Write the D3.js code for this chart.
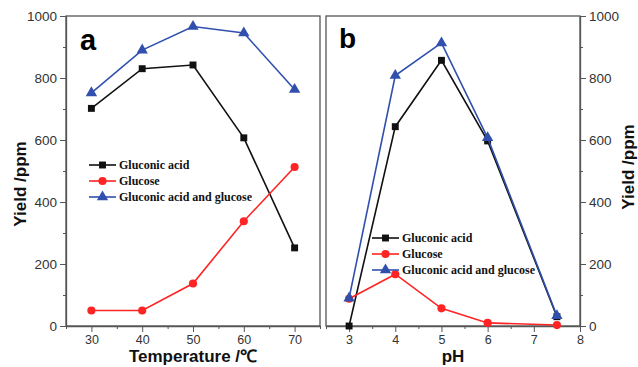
<!DOCTYPE html>
<html>
<head>
<meta charset="utf-8">
<script src="https://cdn.jsdelivr.net/npm/d3@7"></script>
<style>
  body { margin: 0; background: #fff; }
  svg { display: block; }
  .tick text { font-family: "Liberation Sans", Arial, sans-serif; fill: #333; }
  .domain, .tick line { stroke: #555; }
</style>
</head>
<body>
<div id="chart"></div>
<script>
// panel a: temperature
const temps = [30, 40, 50, 60, 70];
const tempGluconic = [702, 830, 842, 607, 252];
const tempGlucose = [50, 50, 137, 338, 513];
const tempTotal = [752, 890, 966, 945, 763];

// panel b: pH
const phs = [3, 4, 5, 6, 7.5];
const phGluconic = [0, 643, 857, 597, 30];
const phGlucose = [88, 167, 57, 10, 3];
const phTotal = [90, 808, 913, 607, 33];

const seriesNames = ["Gluconic acid", "Glucose", "Gluconic acid and glucose"];
const yTicks = [0, 200, 400, 600, 800, 1000];
const yMinor = [100, 300, 500, 700, 900];
const tempTicks = [30, 40, 50, 60, 70];
const tempMinor = [25, 35, 45, 55, 65, 75];
const phTicks = [3, 4, 5, 6, 7, 8];
const phMinor = [2.5, 3.5, 4.5, 5.5, 6.5, 7.5];

const W = 638, H = 367;
const plotTop = 16, plotBottom = 326;
const aLeft = 66, aRight = 320, bLeft = 326, bRight = 580;

const svg = d3.select("#chart").append("svg")
  .attr("width", W).attr("height", H);

const y = d3.scaleLinear().domain([0, 1000]).range([plotBottom, plotTop]);
const xA = d3.scaleLinear().domain([25, 75]).range([aLeft, aRight]);
const xB = d3.scaleLinear().domain([2.5, 8]).range([bLeft, bRight]);

const colors = ["#111", "#ff2424", "#3150ad"];
const markers = [d3.symbolSquare, d3.symbolCircle, d3.symbolTriangle];
const markerSize = [48, 52, 56];

// frames
[[aLeft, aRight], [bLeft, bRight]].forEach(([l, r]) => {
  svg.append("rect")
    .attr("x", l).attr("y", plotTop)
    .attr("width", r - l).attr("height", plotBottom - plotTop)
    .attr("fill", "none").attr("stroke", "#555").attr("stroke-width", 1.3);
});

function axis(gen, ticks, minor, transform, fontSize) {
  const g = svg.append("g").attr("transform", transform)
    .call(gen.tickValues(ticks).tickFormat(d => String(d))
      .tickSize(6).tickSizeOuter(0).tickPadding(3));
  g.selectAll(".tick text").style("font-size", fontSize + "px");
  g.selectAll(".domain").attr("stroke-width", 1.3);
  const m = svg.append("g").attr("transform", transform)
    .call(gen.tickValues(minor).tickSize(3).tickFormat(""));
  m.select(".domain").remove();
  return g;
}

axis(d3.axisLeft(y), yTicks, yMinor, `translate(${aLeft},0)`, 13.5);
axis(d3.axisRight(y), yTicks, yMinor, `translate(${bRight},0)`, 13.5);
axis(d3.axisBottom(xA), tempTicks, tempMinor, `translate(0,${plotBottom})`, 12.5);
axis(d3.axisBottom(xB), phTicks, phMinor, `translate(0,${plotBottom})`, 12.5);

function drawSeries(x, xs, values, i) {
  const pts = xs.map((v, k) => [x(v), y(values[k])]);
  svg.append("path")
    .attr("d", d3.line()(pts))
    .attr("fill", "none")
    .attr("stroke", colors[i])
    .attr("stroke-width", 1.6);
  svg.selectAll(null).data(pts).enter().append("path")
    .attr("transform", d => `translate(${d[0]},${d[1]})`)
    .attr("d", d3.symbol().type(markers[i]).size(markerSize[i]))
    .attr("fill", colors[i]);
}

[tempGluconic, tempGlucose, tempTotal].forEach((s, i) => drawSeries(xA, temps, s, i));
[phGluconic, phGlucose, phTotal].forEach((s, i) => drawSeries(xB, phs, s, i));

// legends
function legend(x0, y0) {
  seriesNames.forEach((name, i) => {
    const yy = y0 + i * 16;
    svg.append("line")
      .attr("x1", x0).attr("x2", x0 + 27)
      .attr("y1", yy).attr("y2", yy)
      .attr("stroke", colors[i]).attr("stroke-width", 1.6);
    svg.append("path")
      .attr("transform", `translate(${x0 + 13.5},${yy})`)
      .attr("d", d3.symbol().type(markers[i]).size(markerSize[i]))
      .attr("fill", colors[i]);
    svg.append("text")
      .attr("x", x0 + 30).attr("y", yy)
      .attr("dy", "0.35em")
      .style("font-family", "'Liberation Serif', 'Times New Roman', serif")
      .style("font-weight", "bold")
      .style("font-size", "12px")
      .attr("fill", "#111")
      .text(name);
  });
}
legend(89, 165);
legend(372, 238);

// panel labels
const bold = "'Liberation Sans', Arial, sans-serif";
svg.append("text").attr("x", 80).attr("y", 50)
  .style("font-family", bold).style("font-weight", "bold").style("font-size", "29px")
  .text("a");
svg.append("text").attr("x", 339).attr("y", 48)
  .style("font-family", bold).style("font-weight", "bold").style("font-size", "28px")
  .text("b");

// axis titles
function title(txt, x, yy, rot) {
  svg.append("text")
    .attr("transform", `translate(${x},${yy}) rotate(${rot})`)
    .attr("text-anchor", "middle")
    .style("font-family", bold).style("font-weight", "bold").style("font-size", "17px")
    .attr("fill", "#111")
    .text(txt);
}
title("Yield /ppm", 26, 184, -90);
title("Yield /ppm", 634, 167, -90);
title("Temperature /\u2103", (aLeft + aRight) / 2, 362, 0);
title("pH", (bLeft + bRight) / 2, 362, 0);
</script>
</body>
</html>
